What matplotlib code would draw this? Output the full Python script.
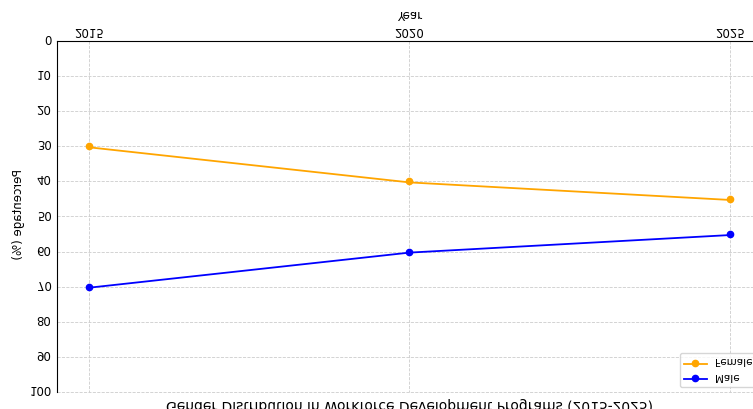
import numpy as np
import matplotlib
matplotlib.use("Agg")
import matplotlib.pyplot as plt

# --- Data ---
years = [2015, 2020, 2025]
female = [30, 40, 45]
male = [70, 60, 55]
yticks = list(range(0, 101, 10))

# --- Plot ---
fig = plt.figure(figsize=(7.53, 4.10), dpi=100)
ax = fig.add_axes([57 / 753, 42 / 410, 705 / 753, 351 / 410])

ax.plot(years, male, color="blue", marker="o", markersize=4.5, linewidth=1.3, label="Male")
ax.plot(years, female, color="orange", marker="o", markersize=4.5, linewidth=1.3, label="Female")

ax.set_xlim(2014.5, 2025.5)
ax.set_ylim(0, 100)
ax.set_xticks(years)
ax.set_yticks(yticks)
ax.tick_params(labelsize=8.5, length=0)
ax.tick_params(axis="x", pad=1.5)
ax.tick_params(axis="y", pad=4)
ax.set_xlabel("Year", fontsize=8.5, labelpad=3)
ax.set_ylabel("Percentage (%)", fontsize=8.5, labelpad=3)
ax.set_title("Gender Distribution in Workforce Development Programs (2015-2025)", fontsize=10, pad=7)
ax.grid(True, linestyle="--", linewidth=0.6, color="#cccccc")
ax.spines["top"].set_visible(False)
ax.spines["right"].set_visible(False)
ax.legend(loc="upper right", fontsize=7.5, handlelength=2.2)

# the reference image is upside down, so flip the rendered pixels
fig.canvas.draw()
img = np.asarray(fig.canvas.buffer_rgba())[::-1]
plt.imsave("out.png", img)
